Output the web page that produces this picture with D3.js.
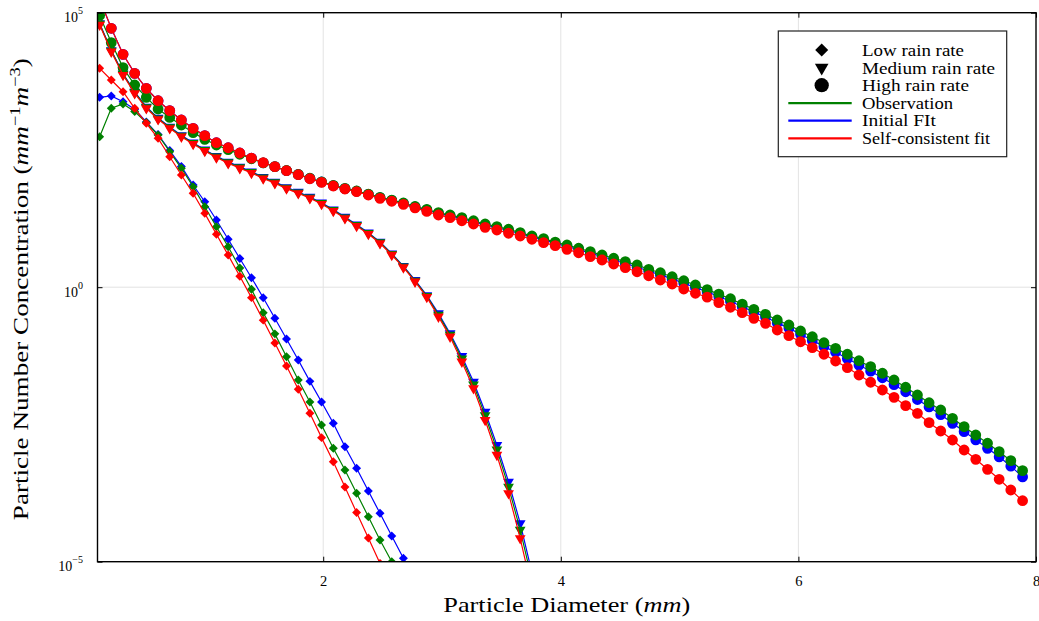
<!DOCTYPE html>
<html>
<head>
<meta charset="utf-8">
<script src="https://cdn.jsdelivr.net/npm/d3@7"></script>
<style>
  body { margin: 0; background: #fff; }
  svg { display: block; }
  text { font-family: "Liberation Serif", "Times New Roman", serif; fill: #000; }
</style>
</head>
<body>
<svg id="chart" width="1039" height="621"></svg>
<script>
// ---------------- DATA ----------------
// Particle diameter (mm) of each bin
const diameters = [
  0.118, 0.216, 0.315, 0.413, 0.511, 0.610, 0.708, 0.806, 0.905, 1.003,
  1.101, 1.200, 1.298, 1.396, 1.495, 1.593, 1.691, 1.790, 1.888, 1.986,
  2.085, 2.183, 2.281, 2.380, 2.478, 2.577, 2.675, 2.773, 2.872, 2.970,
  3.068, 3.167, 3.265, 3.363, 3.462, 3.560, 3.658, 3.757, 3.855, 3.953,
  4.052, 4.150, 4.248, 4.347, 4.445, 4.543, 4.642, 4.740, 4.838, 4.937,
  5.035, 5.133, 5.232, 5.330, 5.428, 5.527, 5.625, 5.723, 5.822, 5.920,
  6.018, 6.117, 6.215, 6.313, 6.412, 6.510, 6.608, 6.707, 6.805, 6.903,
  7.002, 7.100, 7.198, 7.297, 7.395, 7.493, 7.592, 7.690, 7.788, 7.887
];

// log10 of concentration (mm^-1 m^-3), one value per diameter bin from the first
const lowObs = [2.741, 3.259, 3.337, 3.200, 3.000, 2.772, 2.468, 2.166, 1.831, 1.466,
  1.102, 0.738, 0.350, -0.038, -0.464, -0.850, -1.266, -1.690, -2.090, -2.510,
  -2.935, -3.330, -3.754, -4.180, -4.605, -5.000, -5.420];
const lowInit = [3.459, 3.483, 3.379, 3.240, 3.010, 2.780, 2.490, 2.200, 1.862, 1.557,
  1.224, 0.873, 0.523, 0.173, -0.191, -0.567, -0.943, -1.326, -1.715, -2.090,
  -2.479, -2.905, -3.299, -3.712, -4.119, -4.532, -4.937, -5.350];
const lowSelf = [3.987, 3.774, 3.561, 3.259, 2.985, 2.712, 2.377, 2.044, 1.710, 1.345,
  0.965, 0.585, 0.200, -0.190, -0.600, -1.015, -1.435, -1.860, -2.297, -2.740,
  -3.180, -3.640, -4.105, -4.570, -5.030, -5.500];

const medObs = [4.795, 4.305, 3.880, 3.547, 3.274, 3.073, 2.910, 2.756, 2.623, 2.495,
  2.377, 2.272, 2.181, 2.095, 1.995, 1.908, 1.810, 1.725, 1.634, 1.530,
  1.403, 1.270, 1.130, 0.984, 0.815, 0.602, 0.375, 0.117, -0.163, -0.504,
  -0.869, -1.302, -1.776, -2.336, -2.957, -3.638, -4.420, -5.330];
const medInit = [4.805, 4.315, 3.890, 3.557, 3.284, 3.083, 2.920, 2.766, 2.633, 2.505,
  2.387, 2.282, 2.191, 2.105, 2.005, 1.918, 1.820, 1.735, 1.644, 1.540,
  1.413, 1.280, 1.140, 0.994, 0.825, 0.612, 0.385, 0.130, -0.150, -0.477,
  -0.842, -1.257, -1.722, -2.269, -2.876, -3.544, -4.300, -5.200];
const medSelf = [4.780, 4.290, 3.865, 3.532, 3.259, 3.058, 2.895, 2.741, 2.608, 2.480,
  2.362, 2.257, 2.166, 2.080, 1.980, 1.893, 1.795, 1.710, 1.619, 1.515,
  1.388, 1.255, 1.115, 0.969, 0.800, 0.587, 0.360, 0.100, -0.180, -0.537,
  -0.902, -1.357, -1.842, -2.419, -3.056, -3.754, -4.574, -5.500];

const highObs = [4.950, 4.456, 4.000, 3.683, 3.459, 3.246, 3.093, 2.955, 2.816, 2.693,
  2.590, 2.506, 2.421, 2.340, 2.265, 2.195, 2.125, 2.055, 1.985, 1.920,
  1.855, 1.800, 1.752, 1.695, 1.636, 1.585, 1.533, 1.470, 1.419, 1.357,
  1.315, 1.266, 1.211, 1.151, 1.102, 1.055, 0.993, 0.933, 0.884, 0.821,
  0.769, 0.709, 0.647, 0.587, 0.527, 0.465, 0.405, 0.326, 0.264, 0.191,
  0.118, 0.040, -0.045, -0.127, -0.211, -0.309, -0.403, -0.494, -0.597, -0.688,
  -0.798, -0.902, -1.011, -1.113, -1.222, -1.339, -1.448, -1.568, -1.690, -1.823,
  -1.964, -2.104, -2.237, -2.388, -2.541, -2.692, -2.843, -2.996, -3.160, -3.342];
const highInit = [5.250, 4.716, 4.242, 3.896, 3.623, 3.397, 3.215, 3.046, 2.894, 2.760,
  2.632, 2.540, 2.445, 2.350, 2.266, 2.195, 2.124, 2.053, 1.982, 1.917,
  1.851, 1.796, 1.748, 1.691, 1.631, 1.579, 1.526, 1.463, 1.407, 1.345,
  1.300, 1.250, 1.193, 1.133, 1.084, 1.033, 0.975, 0.915, 0.862, 0.801,
  0.745, 0.685, 0.620, 0.560, 0.496, 0.432, 0.368, 0.291, 0.224, 0.151,
  0.073, -0.005, -0.085, -0.170, -0.257, -0.355, -0.452, -0.543, -0.650, -0.745,
  -0.858, -0.970, -1.078, -1.185, -1.300, -1.418, -1.530, -1.650, -1.775, -1.905,
  -2.045, -2.180, -2.320, -2.480, -2.630, -2.780, -2.935, -3.090, -3.260, -3.455];
const highSelf = [5.250, 4.716, 4.242, 3.896, 3.623, 3.397, 3.215, 3.046, 2.894, 2.760,
  2.632, 2.540, 2.445, 2.350, 2.268, 2.195, 2.122, 2.049, 1.976, 1.910,
  1.843, 1.788, 1.740, 1.680, 1.619, 1.565, 1.510, 1.446, 1.380, 1.315,
  1.266, 1.211, 1.151, 1.091, 1.042, 0.982, 0.933, 0.873, 0.811, 0.756,
  0.690, 0.628, 0.556, 0.495, 0.423, 0.355, 0.282, 0.209, 0.131, 0.058,
  -0.033, -0.111, -0.182, -0.280, -0.366, -0.464, -0.567, -0.658, -0.780, -0.883,
  -0.993, -1.102, -1.222, -1.344, -1.466, -1.599, -1.732, -1.872, -2.006, -2.158,
  -2.297, -2.468, -2.619, -2.783, -2.965, -3.135, -3.317, -3.499, -3.694, -3.889];

const xTicks = [2, 4, 6, 8];
const yTicks = [1e-5, 1e0, 1e5];
const yTickExponents = ["\u22125", "0", "5"];
const xDomain = [0.1, 8];
const yDomain = [1e-5, 1e5];

const rateLabels = ["Low rain rate", "Medium rain rate", "High rain rate"];
const fitLabels = ["Observation", "Initial FIt", "Self-consistent fit"];
const xTitle = "Particle Diameter";
const yTitle = "Particle Number Concentration";

// ---------------- STYLE / LAYOUT ----------------
const COL = { obs: "#008000", init: "#0000ff", self: "#ff0000" };
const plot = { left: 97.5, right: 1036, top: 12.7, bottom: 561.7 };

const svg = d3.select("#chart");
const x = d3.scaleLinear().domain(xDomain).range([plot.left, plot.right]);
const y = d3.scaleLog().domain(yDomain).range([plot.bottom, plot.top]);

svg.append("defs").append("clipPath").attr("id", "clip")
  .append("rect")
  .attr("x", plot.left).attr("y", plot.top)
  .attr("width", plot.right - plot.left).attr("height", plot.bottom - plot.top);

// grid
const grid = svg.append("g");
grid.selectAll(".gx").data(xTicks.filter(t => t < xDomain[1])).join("line")
  .attr("x1", d => x(d)).attr("x2", d => x(d))
  .attr("y1", plot.top).attr("y2", plot.bottom)
  .attr("stroke", "#e3e3e3").attr("stroke-width", 1);
grid.selectAll(".gy").data(yTicks.slice(1, 2)).join("line")
  .attr("y1", d => y(d)).attr("y2", d => y(d))
  .attr("x1", plot.left).attr("x2", plot.right)
  .attr("stroke", "#e3e3e3").attr("stroke-width", 1);

// symbols
const symDiamond = d3.symbol().type(d3.symbolSquare);
const symTri = d3.symbol().type(d3.symbolTriangle);
const symCircle = d3.symbol().type(d3.symbolCircle);
const shapes = {
  diamond: { gen: symDiamond, size: 40, rot: 45 },
  tri: { gen: symTri, size: 50, rot: 180 },
  circle: { gen: symCircle, size: 92, rot: 0 }
};

const series = [
  { vals: lowInit, color: COL.init, shape: "diamond" },
  { vals: medInit, color: COL.init, shape: "tri" },
  { vals: highInit, color: COL.init, shape: "circle" },
  { vals: lowObs, color: COL.obs, shape: "diamond" },
  { vals: medObs, color: COL.obs, shape: "tri" },
  { vals: highObs, color: COL.obs, shape: "circle" },
  { vals: lowSelf, color: COL.self, shape: "diamond" },
  { vals: medSelf, color: COL.self, shape: "tri" },
  { vals: highSelf, color: COL.self, shape: "circle" }
];

const plotArea = svg.append("g").attr("clip-path", "url(#clip)");
const line = d3.line().x(d => x(d.d)).y(d => y(d.v));

series.forEach(s => {
  const pts = s.vals.map((lv, i) => ({ d: diameters[i], v: Math.pow(10, lv) }));
  const g = plotArea.append("g");
  g.append("path").datum(pts).attr("d", line)
    .attr("fill", "none").attr("stroke", s.color).attr("stroke-width", 1.2);
  const sh = shapes[s.shape];
  g.selectAll("path.m").data(pts).join("path").attr("class", "m")
    .attr("d", sh.gen.size(sh.size)())
    .attr("transform", d => `translate(${x(d.d)},${y(d.v)}) rotate(${sh.rot})`)
    .attr("fill", s.color);
});

// axes (inward ticks, mirrored on all sides)
const axisFont = g => g.attr("font-family", "Liberation Serif, serif").attr("font-size", 14);

const xAxis = svg.append("g").attr("transform", `translate(0,${plot.bottom})`)
  .call(d3.axisBottom(x).tickValues(xTicks).tickFormat(d3.format("d"))
        .tickSizeInner(-5).tickSizeOuter(0).tickPadding(14))
  .call(axisFont);
xAxis.select(".domain").remove();
xAxis.selectAll("text").attr("font-size", 14.5);

const xAxisTop = svg.append("g").attr("transform", `translate(0,${plot.top})`)
  .call(d3.axisTop(x).tickValues(xTicks).tickFormat("").tickSizeInner(-5).tickSizeOuter(0));
xAxisTop.select(".domain").remove();

const yAxis = svg.append("g").attr("transform", `translate(${plot.left},0)`)
  .call(d3.axisLeft(y).tickValues(yTicks).tickFormat(() => "")
        .tickSizeInner(-5).tickSizeOuter(0).tickPadding(14.5))
  .call(axisFont);
yAxis.select(".domain").remove();
yAxis.selectAll(".tick text").each(function(d, i) {
  const t = d3.select(this).attr("dy", 9).attr("font-size", 14);
  t.text(null);
  t.append("tspan").text("10");
  t.append("tspan").attr("dy", -8).attr("font-size", 10).text(yTickExponents[i]);
});

const yAxisRight = svg.append("g").attr("transform", `translate(${plot.right},0)`)
  .call(d3.axisRight(y).tickValues(yTicks).tickFormat("").tickSizeInner(-5).tickSizeOuter(0));
yAxisRight.select(".domain").remove();

svg.selectAll(".tick line").attr("stroke", "#000").attr("stroke-width", 1);

// frame
svg.append("rect")
  .attr("x", plot.left).attr("y", plot.top)
  .attr("width", plot.right - plot.left).attr("height", plot.bottom - plot.top)
  .attr("fill", "none").attr("stroke", "#000").attr("stroke-width", 1.4);

// axis titles
const xt = svg.append("text")
  .attr("x", (plot.left + plot.right) / 2).attr("y", 612)
  .attr("text-anchor", "middle").attr("font-size", 22)
  .attr("textLength", 247).attr("lengthAdjust", "spacingAndGlyphs");
xt.append("tspan").text(xTitle + " (");
xt.append("tspan").attr("font-style", "italic").text("mm");
xt.append("tspan").text(")");

const yt = svg.append("text")
  .attr("transform", `translate(28,${(plot.top + plot.bottom) / 2 + 2}) rotate(-90)`)
  .attr("text-anchor", "middle").attr("font-size", 22)
  .attr("textLength", 462).attr("lengthAdjust", "spacingAndGlyphs");
yt.append("tspan").text(yTitle + " (");
yt.append("tspan").attr("font-style", "italic").text("mm");
yt.append("tspan").attr("dy", -8).attr("font-size", 15).text("\u22121");
yt.append("tspan").attr("dy", 8).attr("font-style", "italic").text("m");
yt.append("tspan").attr("dy", -8).attr("font-size", 15).text("\u22123");
yt.append("tspan").attr("dy", 8).text(")");

// legend
const leg = svg.append("g");
leg.append("rect").attr("x", 778.3).attr("y", 31).attr("width", 228.4).attr("height", 125.7)
  .attr("fill", "#fff").attr("stroke", "#222").attr("stroke-width", 1.2);
const rowBase = i => 56 + 17.6 * i;
const legendShapes = [
  { gen: symDiamond, size: 85, rot: 45 },
  { gen: symTri, size: 80, rot: 180 },
  { gen: symCircle, size: 160, rot: 0 }
];
rateLabels.forEach((lab, i) => {
  const sh = legendShapes[i];
  leg.append("path").attr("d", sh.gen.size(sh.size)())
    .attr("transform", `translate(821.7,${rowBase(i) - 6}) rotate(${sh.rot})`)
    .attr("fill", "#000");
});
const fitColors = [COL.obs, COL.init, COL.self];
fitLabels.forEach((lab, i) => {
  const yy = rowBase(i + 3) - 5.7;
  leg.append("line").attr("x1", 788.3).attr("x2", 851.7).attr("y1", yy).attr("y2", yy)
    .attr("stroke", fitColors[i]).attr("stroke-width", 2.2);
});
const legWidths = [102, 133, 107, 91, 74, 128];
rateLabels.concat(fitLabels).forEach((lab, i) => {
  leg.append("text").attr("x", 862).attr("y", rowBase(i))
    .attr("font-size", 16).attr("textLength", legWidths[i]).attr("lengthAdjust", "spacingAndGlyphs")
    .text(lab);
});
</script>
</body>
</html>
